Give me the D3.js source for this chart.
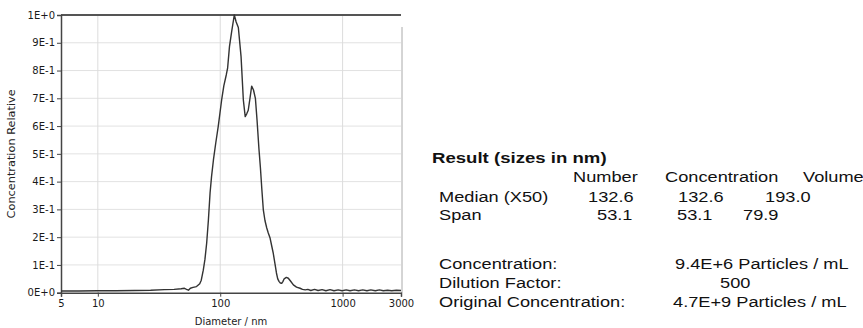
<!DOCTYPE html>
<html>
<head>
<meta charset="utf-8">
<script src="https://cdn.jsdelivr.net/npm/d3@7"></script>
<style>
  body { margin: 0; background: #fff; }
  svg { display: block; }
</style>
</head>
<body>
<svg id="chart" width="863" height="328"></svg>
<script>
// size distribution, diameter (nm) vs relative concentration
var diameters = [5, 7, 10, 14, 20, 27, 35, 42, 48, 51, 53, 55, 57, 60, 64, 68, 70, 72.7, 75, 77.5,
  80, 82.6, 85, 88, 92, 96.4, 102.7, 107, 112, 115, 119, 124, 130.3, 135, 140.6, 148, 154.5, 160,
  165, 169.4, 175, 180.7, 187, 193.8, 200, 207, 213, 219, 225, 232, 240, 247, 255, 263, 271, 280,
  288, 295, 303, 310, 318, 325, 333, 347, 360, 375, 396, 420, 449, 470, 495, 520, 550, 590, 630,
  680, 730, 790, 850, 920, 990, 1070, 1150, 1250, 1350, 1460, 1580, 1700, 1850, 2000, 2150, 2330,
  2520, 2750, 3000];
var concRel = [0.006, 0.006, 0.007, 0.007, 0.008, 0.009, 0.011, 0.012, 0.014, 0.016, 0.012, 0.009,
  0.016, 0.019, 0.022, 0.032, 0.045, 0.081, 0.12, 0.179, 0.26, 0.359, 0.42, 0.478, 0.54, 0.60,
  0.694, 0.745, 0.784, 0.81, 0.886, 0.94, 1.0, 0.975, 0.955, 0.85, 0.694, 0.634, 0.645, 0.657,
  0.70, 0.744, 0.73, 0.70, 0.62, 0.52, 0.45, 0.37, 0.298, 0.26, 0.233, 0.215, 0.198, 0.17, 0.143,
  0.105, 0.071, 0.05, 0.04, 0.035, 0.034, 0.04, 0.05, 0.055, 0.052, 0.042, 0.028, 0.02, 0.016,
  0.012, 0.01, 0.012, 0.008, 0.012, 0.008, 0.011, 0.007, 0.011, 0.007, 0.010, 0.007, 0.010, 0.007,
  0.010, 0.007, 0.010, 0.007, 0.010, 0.007, 0.010, 0.007, 0.009, 0.007, 0.009, 0.008];

var xTicks = [5, 10, 100, 1000, 3000];
var xGrid = [10, 100, 1000];
var yTicks = [0, 0.1, 0.2, 0.3, 0.4, 0.5, 0.6, 0.7, 0.8, 0.9, 1.0];
var yTickLabels = ["0E+0", "1E-1", "2E-1", "3E-1", "4E-1", "5E-1", "6E-1", "7E-1", "8E-1", "9E-1", "1E+0"];

// results table
var resultTitle = "Result (sizes in nm)";
var resultCols = ["Number", "Concentration", "Volume"];
var resultRows = ["Median (X50)", "Span"];
var resultValues = [["132.6", "132.6", "193.0"], ["53.1", "53.1", "79.9"]];
var summaryLabels = ["Concentration:", "Dilution Factor:", "Original Concentration:"];
var summaryValues = ["9.4E+6 Particles / mL", "500", "4.7E+9 Particles / mL"];

var svg = d3.select("#chart");
var plotL = 61, plotR = 401, plotT = 15, plotB = 292.7;

var x = d3.scaleLog().domain([5, 3000]).range([plotL, plotR]);
var y = d3.scaleLinear().domain([0, 1]).range([plotB, plotT]);

// grid
svg.append("g").selectAll("line").data(yTicks.slice(1)).join("line")
  .attr("x1", plotL).attr("x2", plotR)
  .attr("y1", d => y(d)).attr("y2", d => y(d))
  .attr("stroke", "#e2e2e2").attr("stroke-width", 1);
svg.append("g").selectAll("line").data(xGrid).join("line")
  .attr("x1", d => x(d)).attr("x2", d => x(d))
  .attr("y1", plotT).attr("y2", plotB)
  .attr("stroke", "#dcdcdc").attr("stroke-width", 1);

// frame: right side lighter, top thick
svg.append("line").attr("x1", plotR + 1).attr("x2", plotR + 1).attr("y1", plotT + 12).attr("y2", plotB)
  .attr("stroke", "#aaa").attr("stroke-width", 1);
svg.append("line").attr("x1", plotL).attr("x2", plotR).attr("y1", plotT).attr("y2", plotT)
  .attr("stroke", "#555").attr("stroke-width", 2);

// axes
var yAxis = d3.axisLeft(y).tickValues(yTicks).tickSize(4).tickPadding(2)
  .tickFormat((d, i) => yTickLabels[i]);
var gy = svg.append("g").attr("transform", "translate(" + plotL + ",0)").call(yAxis);

var xAxis = d3.axisBottom(x).tickValues(xTicks).tickSize(4).tickPadding(3)
  .tickFormat(d3.format("d"));
var gx = svg.append("g").attr("transform", "translate(0," + plotB + ")").call(xAxis);

[gx, gy].forEach(function (g) {
  g.select(".domain").attr("stroke", "#444").attr("stroke-width", 1.5);
  g.selectAll(".tick line").attr("stroke", "#444");
  g.selectAll("text").attr("font-family", "DejaVu Sans").attr("font-size", 10).attr("fill", "#1a1a1a");
});

// curve
var pts = diameters.map((d, i) => [d, concRel[i]]);
svg.append("path").datum(pts)
  .attr("fill", "none").attr("stroke", "#333").attr("stroke-width", 1.4)
  .attr("stroke-linejoin", "round")
  .attr("d", d3.line().x(d => x(d[0])).y(d => y(d[1])));

// axis titles
svg.append("text").attr("transform", "translate(15," + ((plotT + plotB) / 2) + ") rotate(-90)")
  .attr("text-anchor", "middle").attr("font-family", "DejaVu Sans").attr("font-size", 11.3)
  .attr("fill", "#222").text("Concentration Relative");
svg.append("text").attr("x", (plotL + plotR) / 2).attr("y", 325)
  .attr("text-anchor", "middle").attr("font-family", "DejaVu Sans").attr("font-size", 10)
  .attr("fill", "#222").text("Diameter / nm");

// results text, stretched wide like the original
function addText(str, tx, ty, bold) {
  svg.append("text")
    .attr("transform", "translate(" + tx + "," + ty + ") scale(1.257,1)")
    .attr("font-family", "Liberation Sans, Arial, sans-serif")
    .attr("font-size", bold ? 14.8 : 14.5)
    .attr("font-weight", bold ? "bold" : "normal")
    .attr("fill", "#111")
    .text(str);
}
addText(resultTitle, 432, 163, true);
var colX = [573, 665, 803];
resultCols.forEach((c, i) => addText(c, colX[i], 181.7));
var rowY = [201.5, 220];
var valX = [[588, 678, 765], [597, 677, 743]];
resultRows.forEach(function (r, i) {
  addText(r, 439, rowY[i]);
  resultValues[i].forEach((v, j) => addText(v, valX[i][j], rowY[i]));
});
var sumY = [269, 287.5, 306.5];
var sumX = [675, 720, 673];
summaryLabels.forEach(function (s, i) {
  addText(s, 439, sumY[i]);
  addText(summaryValues[i], sumX[i], sumY[i]);
});
</script>
</body>
</html>
